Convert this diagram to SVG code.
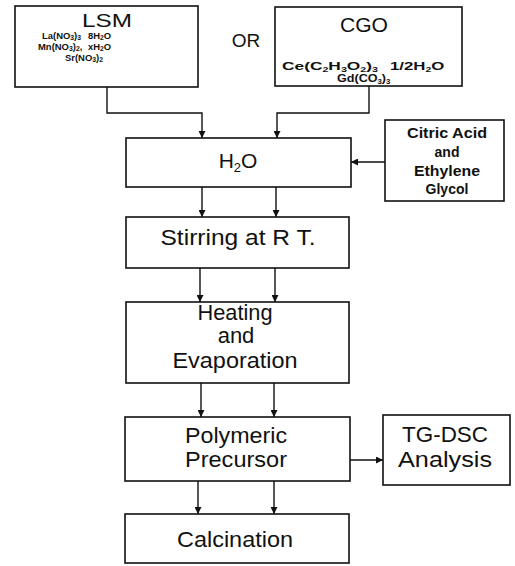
<svg xmlns="http://www.w3.org/2000/svg" width="515" height="566" viewBox="0 0 515 566">
<defs>
<marker id="ah" viewBox="0 0 8 8" refX="8" refY="4" markerWidth="7" markerHeight="7" markerUnits="userSpaceOnUse" orient="auto">
<path d="M0,0 L8,4 L0,8 z" fill="#111"/>
</marker>
<style>
.box{fill:#fff;stroke:#111;stroke-width:1.6}
.c{fill:none;stroke:#111;stroke-width:1.4}
.a{marker-end:url(#ah)}
.t{font-family:"Liberation Sans",Arial,sans-serif;fill:#111;text-anchor:middle}
.big{font-size:22px}
.chem{font-family:"Liberation Sans",Arial,sans-serif;fill:#111;font-size:9px;font-weight:bold}
.chem2{font-family:"Liberation Sans",Arial,sans-serif;fill:#111;font-size:10.5px;font-weight:bold}
.s{font-size:6.5px}
.sm{font-family:"Liberation Sans",Arial,sans-serif;fill:#111;font-size:14px;font-weight:bold;text-anchor:middle}
</style>
</defs>
<rect width="515" height="566" fill="#fff"/>
<g id="connectors">
<path class="c a" d="M107,87 V113 H202 V138"/>
<path class="c a" d="M369,86 V113 H277 V138"/>
<path class="c a" d="M385,162 H351"/>
<path class="c a" d="M202,187 V217"/>
<path class="c a" d="M276,187 V217"/>
<path class="c a" d="M200,268 V302"/>
<path class="c a" d="M275,268 V302"/>
<path class="c a" d="M201,383 V417"/>
<path class="c a" d="M274,383 V417"/>
<path class="c a" d="M350,460 H383"/>
<path class="c a" d="M198,481 V514"/>
<path class="c a" d="M274,481 V514"/>
</g>
<g id="lsm">
<rect class="box" x="15" y="6" width="183" height="81"/>
<text class="t" x="107" y="27" font-size="19" textLength="50" lengthAdjust="spacingAndGlyphs">LSM</text>
<text class="chem" transform="translate(42,38.5) scale(1.05,1)">La(NO<tspan class="s" dy="1.5">3</tspan><tspan dy="-1.5">)</tspan><tspan class="s" dy="1.5">3</tspan></text>
<text class="chem" transform="translate(88,38.5) scale(1.05,1)">8H<tspan class="s" dy="1.5">2</tspan><tspan dy="-1.5">O</tspan></text>
<text class="chem" transform="translate(38,49.5) scale(1.05,1)">Mn(NO<tspan class="s" dy="1.5">3</tspan><tspan dy="-1.5">)</tspan><tspan class="s" dy="1.5">2</tspan><tspan dy="-1.5">,</tspan></text>
<text class="chem" transform="translate(88,49.5) scale(1.05,1)">xH<tspan class="s" dy="1.5">2</tspan><tspan dy="-1.5">O</tspan></text>
<text class="chem" transform="translate(65,60.5) scale(1.05,1)">Sr(NO<tspan class="s" dy="1.5">3</tspan><tspan dy="-1.5">)</tspan><tspan class="s" dy="1.5">2</tspan></text>
</g>
<g id="or">
<text class="t" x="246" y="47" font-size="19">OR</text>
</g>
<g id="cgo">
<rect class="box" x="275" y="7" width="187" height="79"/>
<text class="t" x="364" y="32" font-size="20" textLength="48" lengthAdjust="spacingAndGlyphs">CGO</text>
<text class="chem2" transform="translate(282,70) scale(1.65,1)">Ce(C<tspan class="s" dy="1.5">2</tspan><tspan dy="-1.5">H</tspan><tspan class="s" dy="1.5">3</tspan><tspan dy="-1.5">O</tspan><tspan class="s" dy="1.5">2</tspan><tspan dy="-1.5">)</tspan><tspan class="s" dy="1.5">3</tspan></text>
<text class="chem2" transform="translate(390,70) scale(1.6,1)">1/2H<tspan class="s" dy="1.5">2</tspan><tspan dy="-1.5">O</tspan></text>
<text class="chem2" transform="translate(337,82) scale(1.2,1)">Gd(CO<tspan class="s" dy="1.5">3</tspan><tspan dy="-1.5">)</tspan><tspan class="s" dy="1.5">3</tspan></text>
</g>
<g id="h2o">
<rect class="box" x="126" y="138" width="225" height="49"/>
<text class="t" x="238" y="168" font-size="21">H<tspan font-size="13" dy="4">2</tspan><tspan dy="-4">O</tspan></text>
</g>
<g id="citric">
<rect class="box" x="385" y="120" width="119" height="81"/>
<text class="sm" x="447" y="138" textLength="80" lengthAdjust="spacingAndGlyphs">Citric Acid</text>
<text class="sm" x="447" y="157">and</text>
<text class="sm" x="447" y="176" textLength="66" lengthAdjust="spacingAndGlyphs">Ethylene</text>
<text class="sm" x="447" y="194">Glycol</text>
</g>
<g id="stirring">
<rect class="box" x="126" y="217" width="223" height="51"/>
<text class="t big" x="238" y="245" textLength="155" lengthAdjust="spacingAndGlyphs">Stirring at R T.</text>
</g>
<g id="heating">
<rect class="box" x="126" y="302" width="223" height="81"/>
<text class="t big" x="235" y="320" textLength="75" lengthAdjust="spacingAndGlyphs">Heating</text>
<text class="t big" x="236" y="343">and</text>
<text class="t big" x="235" y="368" textLength="125" lengthAdjust="spacingAndGlyphs">Evaporation</text>
</g>
<g id="polymeric">
<rect class="box" x="125" y="417" width="225" height="64"/>
<text class="t big" x="236" y="443" textLength="102" lengthAdjust="spacingAndGlyphs">Polymeric</text>
<text class="t big" x="236" y="467" textLength="102" lengthAdjust="spacingAndGlyphs">Precursor</text>
</g>
<g id="tgdsc">
<rect class="box" x="383" y="415" width="127" height="70"/>
<text class="t big" x="445" y="442" textLength="86" lengthAdjust="spacingAndGlyphs">TG-DSC</text>
<text class="t big" x="445" y="467" textLength="94" lengthAdjust="spacingAndGlyphs">Analysis</text>
</g>
<g id="calcination">
<rect class="box" x="125" y="514" width="224" height="49"/>
<text class="t big" x="235" y="547" textLength="116" lengthAdjust="spacingAndGlyphs">Calcination</text>
</g>
</svg>
